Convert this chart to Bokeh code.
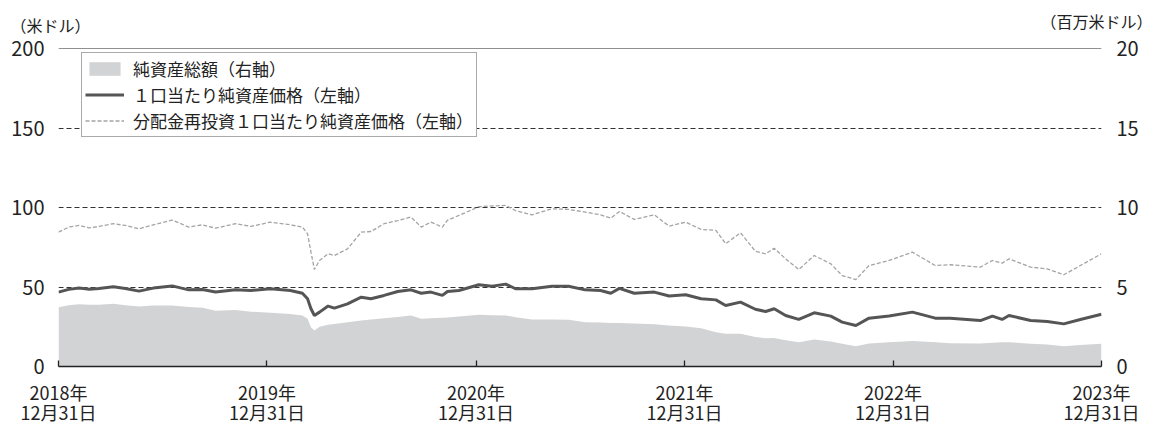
import pandas as pd
from bokeh.plotting import figure
from bokeh.models import (Range1d, LinearAxis, FixedTicker, Span, Label, Legend,
                          LegendItem, ColumnDataSource)
from bokeh.embed import file_html
from bokeh.resources import INLINE

# ---------------- data ----------------
dates = [
    "2018-12-31", "2019-01-18", "2019-02-05", "2019-02-23", "2019-03-12", "2019-04-06",
    "2019-04-27", "2019-05-21", "2019-06-15", "2019-07-18", "2019-08-16", "2019-09-09",
    "2019-10-02", "2019-11-06", "2019-12-03", "2020-01-06", "2020-02-10", "2020-03-02",
    "2020-03-11", "2020-03-17", "2020-03-23", "2020-04-01", "2020-04-16", "2020-04-27",
    "2020-05-20", "2020-06-13", "2020-06-30", "2020-07-23", "2020-08-16", "2020-09-08",
    "2020-09-26", "2020-10-13", "2020-11-02", "2020-11-11", "2020-12-01", "2021-01-05",
    "2021-01-28", "2021-02-21", "2021-03-10", "2021-04-08", "2021-05-13", "2021-06-11",
    "2021-07-10", "2021-08-06", "2021-08-24", "2021-09-08", "2021-10-04", "2021-11-08",
    "2021-12-04", "2022-01-02", "2022-01-29", "2022-02-24", "2022-03-13", "2022-04-08",
    "2022-05-04", "2022-05-22", "2022-06-06", "2022-06-26", "2022-07-19", "2022-08-15",
    "2022-09-13", "2022-10-03", "2022-10-27", "2022-11-19", "2022-12-24", "2023-02-03",
    "2023-03-15", "2023-04-10", "2023-06-02", "2023-06-23", "2023-07-10", "2023-07-22",
    "2023-08-29", "2023-09-27", "2023-10-26", "2023-11-24", "2023-12-31",
]
nav = [
    46.8, 48.5, 49.3, 48.6, 49.0, 50.1,
    49.0, 47.4, 49.3, 50.7, 48.2, 48.4,
    46.8, 48.2, 47.8, 48.9, 47.8, 46.1,
    42.6, 36.3, 32.1, 34.2, 38.0, 36.7,
    39.4, 43.6, 42.6, 44.7, 47.2, 48.2,
    46.1, 46.8, 44.7, 47.2, 47.8, 51.4,
    50.5, 51.8, 48.9, 48.9, 50.5, 50.5,
    48.2, 47.8, 46.1, 49.1, 46.1, 46.8,
    44.3, 45.1, 42.6, 41.9, 38.4, 40.5,
    36.0, 34.6, 36.3, 32.1, 29.6, 33.8,
    31.7, 27.9, 25.8, 30.4, 31.7, 34.2,
    30.4, 30.4, 28.9, 31.7, 29.6, 32.1,
    28.9, 28.3, 26.8, 29.6, 32.9,
]
nav_reinvested = [
    84.5, 87.7, 88.7, 87.2, 88.1, 89.8,
    88.7, 86.6, 89.1, 92.1, 87.7, 89.1,
    87.0, 89.8, 88.1, 90.8, 89.1, 87.7,
    83.5, 71.9, 61.0, 66.7, 70.9, 69.8,
    74.0, 84.5, 84.9, 89.8, 91.8, 94.0,
    87.7, 90.8, 87.7, 92.0, 95.0, 100.5,
    101.0, 101.3, 98.1, 95.4, 99.2, 98.8,
    97.1, 95.4, 93.3, 97.5, 92.5, 95.4,
    88.3, 90.8, 86.2, 85.6, 77.2, 84.1,
    72.5, 70.9, 74.4, 67.7, 61.0, 69.8,
    64.6, 57.2, 54.7, 63.5, 66.7, 71.9,
    63.5, 64.0, 62.5, 66.7, 65.0, 67.7,
    62.5, 61.4, 57.7, 63.5, 70.9,
]
total_assets = [  # 百万米ドル (right axis)
    3.73, 3.85, 3.92, 3.88, 3.88, 3.94,
    3.85, 3.77, 3.84, 3.84, 3.75, 3.70,
    3.50, 3.56, 3.45, 3.38, 3.30, 3.21,
    3.00, 2.47, 2.26, 2.50, 2.62, 2.68,
    2.78, 2.89, 2.95, 3.04, 3.12, 3.21,
    3.00, 3.04, 3.06, 3.08, 3.15, 3.25,
    3.22, 3.21, 3.10, 2.96, 2.96, 2.94,
    2.79, 2.76, 2.74, 2.73, 2.70, 2.66,
    2.58, 2.52, 2.40, 2.16, 2.06, 2.06,
    1.85, 1.78, 1.80, 1.65, 1.53, 1.70,
    1.58, 1.43, 1.28, 1.45, 1.53, 1.61,
    1.53, 1.47, 1.45, 1.50, 1.52, 1.53,
    1.43, 1.38, 1.28, 1.35, 1.43,
]

x_tick_dates = ["2018-12-31", "2019-12-31", "2020-12-31", "2021-12-31", "2022-12-31", "2023-12-31"]
x_tick_labels = ["2018年\n12月31日", "2019年\n12月31日", "2020年\n12月31日",
                 "2021年\n12月31日", "2022年\n12月31日", "2023年\n12月31日"]
left_ticks = [0, 50, 100, 150, 200]
right_ticks = [0, 5, 10, 15, 20]
left_unit = "（米ドル）"
right_unit = "（百万米ドル）"
legend_labels = ["純資産総額（右軸）", "１口当たり純資産価格（左軸）",
                 "分配金再投資１口当たり純資産価格（左軸）"]

# ---------------- plot ----------------
FONT = "Noto Sans CJK JP"
TXT = "#222222"

src = ColumnDataSource(dict(date=pd.to_datetime(dates), nav=nav,
                            re=nav_reinvested, aum=total_assets))

x0 = pd.Timestamp(x_tick_dates[0])
x1 = pd.Timestamp(x_tick_dates[-1])

p = figure(frame_width=1043, frame_height=318, x_axis_type="datetime",
           x_range=Range1d(x0, x1), y_range=Range1d(left_ticks[0], left_ticks[-1]),
           output_backend="svg", toolbar_location=None,
           min_border_left=58, min_border_right=53, min_border_top=48, min_border_bottom=59)
p.extra_y_ranges = {"r": Range1d(right_ticks[0], right_ticks[-1])}
p.outline_line_color = None
p.background_fill_color = "white"

r_area = p.varea(x="date", y1=0, y2="aum", source=src, fill_color="#d2d3d5",
                 y_range_name="r")
r_re = p.line(x="date", y="re", source=src, line_color="#a4a4a4", line_width=1.3,
              line_dash="4 2")
r_nav = p.line(x="date", y="nav", source=src, line_color="#555555", line_width=3)

# grid
p.xgrid.visible = False
p.ygrid.ticker = FixedTicker(ticks=left_ticks[1:-1])
p.ygrid.grid_line_color = "#333333"
p.ygrid.grid_line_dash = "5 3"
p.ygrid.grid_line_width = 1
p.add_layout(Span(location=left_ticks[-1], dimension="width", line_color="#222222",
                  line_width=1.2))

# left axis
ya = p.yaxis[0]
ya.ticker = FixedTicker(ticks=left_ticks)
ya.axis_line_color = None
ya.major_tick_line_color = None
ya.minor_tick_line_color = None
ya.major_label_standoff = 8
ya.major_label_text_font = FONT
ya.major_label_text_font_size = "20px"
ya.major_label_text_color = TXT

# right axis
ra = LinearAxis(y_range_name="r", ticker=FixedTicker(ticks=right_ticks))
ra.axis_line_color = None
ra.major_tick_line_color = None
ra.minor_tick_line_color = None
ra.major_label_standoff = 9
ra.major_label_text_font = FONT
ra.major_label_text_font_size = "20px"
ra.major_label_text_color = TXT
p.add_layout(ra, "right")

# bottom axis
xa = p.xaxis[0]
tick_ms = [pd.Timestamp(d).value / 1e6 for d in x_tick_dates]
xa.ticker = FixedTicker(ticks=tick_ms)
xa.major_label_overrides = {t: l for t, l in zip(tick_ms, x_tick_labels)}
xa.axis_line_color = "#222222"
xa.axis_line_width = 1.3
xa.major_tick_in = 6
xa.major_tick_out = 0
xa.major_tick_line_color = "#222222"
xa.major_tick_line_width = 1.3
xa.minor_tick_line_color = None
xa.major_label_standoff = 12
xa.major_label_text_font = FONT
xa.major_label_text_font_size = "18px"
xa.major_label_text_color = TXT
xa.major_label_text_line_height = 0.8

# unit labels (placed in the panels above the frame; coords relative to each panel)
p.add_layout(Label(x=-48, y=24, x_units="screen", y_units="screen", text=left_unit,
                   text_font=FONT, text_font_size="16px", text_color=TXT,
                   text_baseline="middle", text_align="left"), "above")
p.add_layout(Label(x=1094, y=4, x_units="screen", y_units="screen", text=right_unit,
                   text_font=FONT, text_font_size="16px", text_color=TXT,
                   text_baseline="middle", text_align="right"), "above")

legend = Legend(items=[LegendItem(label=legend_labels[0], renderers=[r_area]),
                       LegendItem(label=legend_labels[1], renderers=[r_nav]),
                       LegendItem(label=legend_labels[2], renderers=[r_re])],
                location=(23, 229), orientation="vertical",
                label_text_font=FONT, label_text_font_size="17px", label_text_color=TXT,
                glyph_width=39, glyph_height=17, label_standoff=9, label_height=24,
                padding=3, spacing=1, margin=0,
                border_line_color="#555555", border_line_width=1,
                background_fill_color="white", background_fill_alpha=1)
p.add_layout(legend)

open("out.html", "w").write(file_html(p, INLINE))
